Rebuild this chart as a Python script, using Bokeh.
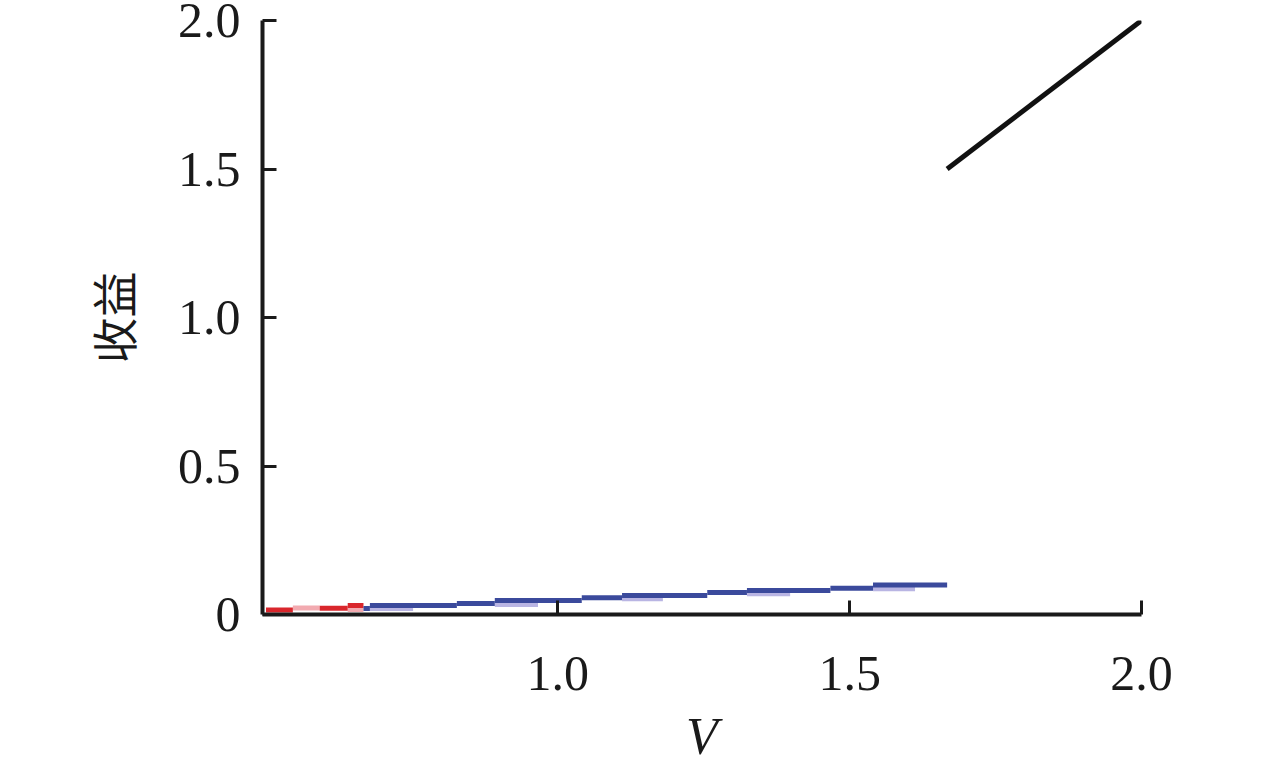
from bokeh.plotting import figure
from bokeh.models import Range1d, FixedTicker, PrintfTickFormatter
from bokeh.embed import file_html
from bokeh.resources import INLINE

# ---- data ----
black_x = [1.667, 2.0]
black_y = [1.5, 2.0]

red_x0 = [0.500, 0.592, 0.640]
red_x1 = [0.546, 0.640, 0.667]
red_y = [0.015, 0.021, 0.030]

pink_x0 = [0.546, 0.640]
pink_x1 = [0.592, 0.667]
pink_y = [0.022, 0.017]

lav_x0 = [0.678, 0.892, 1.110, 1.324, 1.540]
lav_x1 = [0.752, 0.966, 1.180, 1.398, 1.612]
lav_y = [0.020, 0.034, 0.053, 0.070, 0.087]

blue_x0 = [0.667, 0.678, 0.827, 0.892, 1.041, 1.110, 1.256, 1.324, 1.467, 1.540]
blue_x1 = [0.678, 0.827, 0.892, 1.041, 1.110, 1.256, 1.324, 1.467, 1.540, 1.667]
blue_y = [0.020, 0.030, 0.037, 0.047, 0.056, 0.064, 0.074, 0.081, 0.088, 0.099]

x_ticks = [1.0, 1.5, 2.0]
y_ticks = [0, 0.5, 1.0, 1.5, 2.0]
x_label = "V"
y_label = "收益"

W, H = 1264, 768
p = figure(width=W, height=H, output_backend="svg", toolbar_location=None,
           x_range=Range1d(0.494, 2.0), y_range=Range1d(0, 2.0))
p.min_border_left = 262
p.min_border_right = W - 1141
p.min_border_top = 20
p.min_border_bottom = H - 614
p.outline_line_color = None
p.xgrid.visible = False
p.ygrid.visible = False
p.background_fill_color = "white"
p.border_fill_color = "white"

p.segment(x0=pink_x0, x1=pink_x1, y0=pink_y, y1=pink_y, line_color="#f2aab0", line_width=5)
p.segment(x0=red_x0, x1=red_x1, y0=red_y, y1=red_y, line_color="#d9262c", line_width=5)
p.segment(x0=lav_x0, x1=lav_x1, y0=lav_y, y1=lav_y, line_color="#b9b5e3", line_width=5)
p.segment(x0=blue_x0, x1=blue_x1, y0=blue_y, y1=blue_y, line_color="#3b4a9c", line_width=5)
p.line(black_x, black_y, line_color="#111111", line_width=5)

for ax in (p.xaxis[0], p.yaxis[0]):
    ax.axis_line_width = 4
    ax.axis_line_color = "#1a1a1a"
    ax.major_tick_line_width = 3
    ax.major_tick_line_color = "#1a1a1a"
    ax.major_tick_in = 14
    ax.major_tick_out = 0
    ax.minor_tick_line_color = None
    ax.major_label_text_font = "Liberation Serif"
    ax.major_label_text_font_size = "50px"
    ax.major_label_text_color = "#1a1a1a"
    ax.axis_label_text_color = "#1a1a1a"
    ax.formatter = PrintfTickFormatter(format="%.1f")

p.xaxis.ticker = FixedTicker(ticks=x_ticks)
p.yaxis.ticker = FixedTicker(ticks=y_ticks)
p.yaxis.major_label_overrides = {0: "0"}

p.xaxis.axis_label = x_label
p.xaxis.axis_label_text_font = "Liberation Serif"
p.xaxis.axis_label_text_font_style = "italic"
p.xaxis.axis_label_text_font_size = "52px"
p.xaxis.major_label_standoff = 42
p.xaxis.axis_label_standoff = 15

p.yaxis.axis_label = y_label
p.yaxis.axis_label_text_font = "Noto Sans CJK SC"
p.yaxis.axis_label_text_font_style = "normal"
p.yaxis.axis_label_text_font_size = "46px"
p.yaxis.major_label_standoff = 22
p.yaxis.axis_label_standoff = 30

open("out.html", "w").write(file_html(p, INLINE))
